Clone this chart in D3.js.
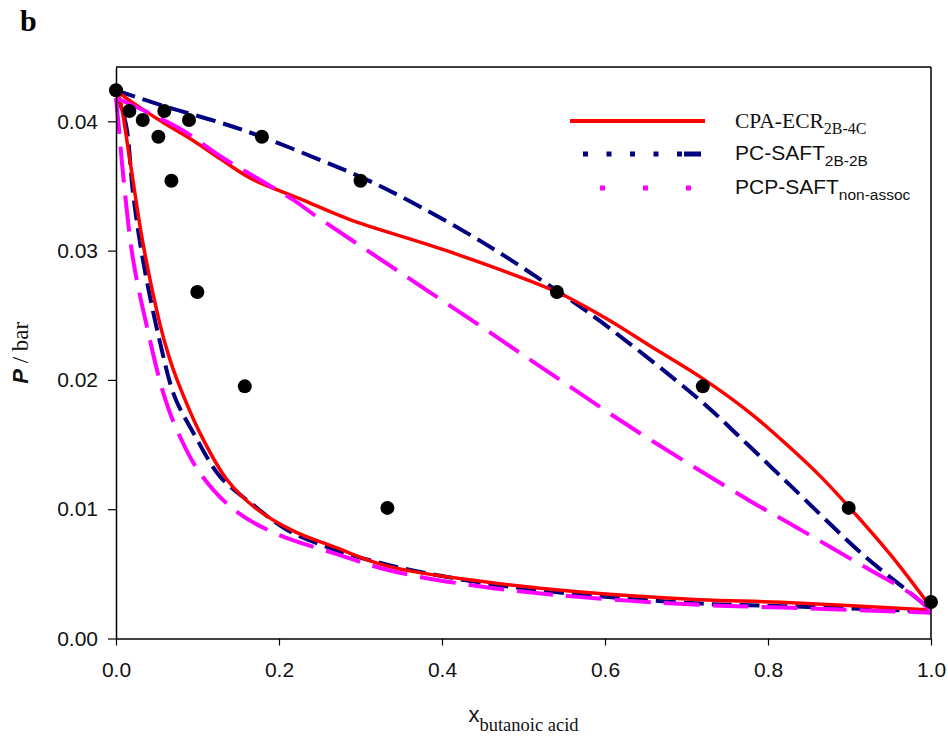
<!DOCTYPE html>
<html>
<head>
<meta charset="utf-8">
<script src="https://cdn.jsdelivr.net/npm/d3@7"></script>
<style>
  html, body { margin: 0; padding: 0; background: #fff; }
  svg { display: block; }
</style>
</head>
<body>
<svg id="chart" width="948" height="746"></svg>
<script>
// ---------------- DATA ----------------
const xTicks = [0, 0.2, 0.4, 0.6, 0.8, 1.0];
const yTicks = [0, 0.01, 0.02, 0.03, 0.04];

// Experimental points
const expX = [0, 0.0164, 0.0328, 0.052, 0.0593, 0.068, 0.0896, 0.0998, 0.158, 0.179, 0.300, 0.333, 0.541, 0.720, 0.899, 1.0];
const expP = [0.0424, 0.0408, 0.0401, 0.0388, 0.0408, 0.0354, 0.0401, 0.0268, 0.0195, 0.0388, 0.0354, 0.0101, 0.0268, 0.0195, 0.0101, 0.00282];

// CPA-ECR 2B-4C (red, solid)
const cpaBubbleX = [0, 0.017, 0.058, 0.095, 0.128, 0.165, 0.226, 0.287, 0.41, 0.541, 0.6, 0.656, 0.72, 0.779, 0.83, 0.865, 0.899, 0.95, 1.0];
const cpaBubbleP = [0.0424, 0.0416, 0.0399, 0.0385, 0.0371, 0.0356, 0.0340, 0.0324, 0.0299, 0.0268, 0.0248, 0.0226, 0.0201, 0.0174, 0.0146, 0.0125, 0.0102, 0.0065, 0.0024];
const cpaDewX = [0, 0.005, 0.017, 0.033, 0.054, 0.065, 0.075, 0.103, 0.136, 0.173, 0.218, 0.267, 0.333, 0.45, 0.57, 0.717, 0.816, 1.0];
const cpaDewP = [0.0424, 0.0416, 0.0370, 0.0306, 0.0243, 0.0218, 0.0200, 0.0159, 0.0123, 0.0100, 0.0083, 0.0071, 0.0056, 0.0044, 0.0036, 0.0030, 0.0028, 0.0022];

// PC-SAFT 2B-2B (navy, dashed)
const pcBubbleX = [0, 0.063, 0.128, 0.179, 0.247, 0.300, 0.349, 0.451, 0.541, 0.595, 0.717, 0.775, 0.828, 0.918, 0.979, 1.0];
const pcBubbleP = [0.0424, 0.0411, 0.0399, 0.0388, 0.0371, 0.0357, 0.0342, 0.0306, 0.0269, 0.0245, 0.0184, 0.0150, 0.0118, 0.0064, 0.0033, 0.0022];
const pcDewX = [0, 0.006, 0.013, 0.021, 0.033, 0.054, 0.072, 0.095, 0.128, 0.165, 0.21, 0.267, 0.34, 0.45, 0.57, 0.717, 0.82, 1.0];
const pcDewP = [0.0424, 0.0412, 0.0395, 0.0344, 0.0293, 0.0229, 0.0187, 0.0159, 0.0125, 0.0105, 0.0084, 0.0069, 0.0056, 0.0043, 0.0034, 0.0027, 0.0025, 0.0021];

// PCP-SAFT non-assoc (magenta, long dashes)
const pcpBubbleX = [0, 0.042, 0.082, 0.103, 0.128, 0.165, 0.218, 0.247, 0.349, 0.451, 0.533, 0.635, 0.779, 0.832, 0.914, 0.979, 1.0];
const pcpBubbleP = [0.0418, 0.0406, 0.0393, 0.0384, 0.0373, 0.0359, 0.0339, 0.0326, 0.0283, 0.0240, 0.0205, 0.0162, 0.0106, 0.0087, 0.0057, 0.0033, 0.0021];
const pcpDewX = [0, 0.004, 0.009, 0.021, 0.038, 0.058, 0.075, 0.103, 0.144, 0.193, 0.267, 0.34, 0.45, 0.57, 0.717, 0.816, 1.0];
const pcpDewP = [0.0418, 0.0392, 0.0357, 0.0293, 0.0241, 0.0190, 0.0161, 0.0128, 0.0100, 0.0082, 0.0066, 0.0052, 0.0040, 0.0032, 0.0026, 0.0024, 0.0020];

const legendMain = ["CPA-ECR", "PC-SAFT", "PCP-SAFT"];
const legendSub = ["2B-4C", "2B-2B", "non-assoc"];

// ---------------- LAYOUT ----------------
const svg = d3.select("#chart");
const L = 116, R = 931, T = 67, B = 638.5;

const x = d3.scaleLinear().domain([0, 1]).range([L, R]);
const y = d3.scaleLinear().domain([0, 0.0442]).range([B, T]);

const zip = (xs, ps) => xs.map((v, i) => [v, ps[i]]);
const line = d3.line().x(d => x(d[0])).y(d => y(d[1])).curve(d3.curveCatmullRom.alpha(0.5));

const RED = "#ff0000", NAVY = "#000080", MAG = "#ff00ff";

const series = [
  { data: zip(pcBubbleX, pcBubbleP), color: NAVY, width: 4, dash: "20,8" },
  { data: zip(pcDewX, pcDewP), color: NAVY, width: 4, dash: "20,8" },
  { data: zip(cpaBubbleX, cpaBubbleP), color: RED, width: 3.5, dash: null },
  { data: zip(cpaDewX, cpaDewP), color: RED, width: 3.5, dash: null },
  { data: zip(pcpBubbleX, pcpBubbleP), color: MAG, width: 4, dash: "36,13" },
  { data: zip(pcpDewX, pcpDewP), color: MAG, width: 4, dash: "36,13" }
];

const plot = svg.append("g");
series.forEach(s => {
  plot.append("path")
    .attr("d", line(s.data))
    .attr("fill", "none")
    .attr("stroke", s.color)
    .attr("stroke-width", s.width)
    .attr("stroke-dasharray", s.dash)
    .attr("stroke-linecap", "butt");
});

plot.selectAll("circle.exp")
  .data(zip(expX, expP))
  .enter().append("circle")
  .attr("class", "exp")
  .attr("cx", d => x(d[0]))
  .attr("cy", d => y(d[1]))
  .attr("r", 7)
  .attr("fill", "#000");

// ---------------- AXES ----------------
const fontSans = "'Liberation Sans', Arial, sans-serif";
const fontSerif = "'Liberation Serif', 'Times New Roman', serif";

const xAxis = svg.append("g")
  .attr("transform", `translate(0,${B})`)
  .call(d3.axisBottom(x).tickValues(xTicks).tickFormat(d3.format(".1f"))
    .tickSize(7).tickSizeOuter(0).tickPadding(17));
const yAxis = svg.append("g")
  .attr("transform", `translate(${L},0)`)
  .call(d3.axisLeft(y).tickValues(yTicks).tickFormat(d3.format(".2f"))
    .tickSize(8).tickSizeOuter(0).tickPadding(10));

[xAxis, yAxis].forEach(a => {
  a.select(".domain").attr("stroke", "#000").attr("stroke-width", 1.5);
  a.selectAll(".tick line").attr("stroke", "#000").attr("stroke-width", 1.2);
  a.selectAll(".tick text").attr("font-family", fontSans).attr("font-size", 21).attr("fill", "#111");
});

// frame top & right
svg.append("line").attr("x1", L).attr("x2", R).attr("y1", T).attr("y2", T)
  .attr("stroke", "#000").attr("stroke-width", 1.5);
svg.append("line").attr("x1", R).attr("x2", R).attr("y1", T).attr("y2", B)
  .attr("stroke", "#000").attr("stroke-width", 1.5);

// axis titles
const xt = svg.append("text").attr("x", (L + R) / 2).attr("y", 722)
  .attr("text-anchor", "middle").attr("fill", "#111");
xt.append("tspan").attr("font-family", fontSans).attr("font-size", 22).text("x");
xt.append("tspan").attr("font-family", fontSerif).attr("font-size", 18.5).attr("dy", 9).text("butanoic acid");

const yt = svg.append("text").attr("transform", `translate(28,${(T + B) / 2}) rotate(-90)`)
  .attr("text-anchor", "middle").attr("fill", "#111");
yt.append("tspan").attr("font-family", fontSans).attr("font-weight", "bold").attr("font-style", "italic")
  .attr("font-size", 22).text("P");
yt.append("tspan").attr("font-family", fontSerif).attr("font-size", 23).text(" / bar");

// panel label
svg.append("text").attr("x", 20).attr("y", 31)
  .attr("font-family", fontSerif).attr("font-weight", "bold").attr("font-size", 30)
  .attr("fill", "#000").text("b");

// ---------------- LEGEND ----------------
const legItems = [
  { color: RED, y: 121, x1: 570, dash: null, font: fontSerif, size: 21.5, subSize: 16, base: 128 },
  { color: NAVY, y: 154, x1: 583, dash: "5,18.5,5,18.5,5,18.5,5,18.5,5,2,17", font: fontSans, size: 21, subSize: 15.5, base: 160 },
  { color: MAG, y: 188, x1: 600, dash: "5,38", font: fontSans, size: 21, subSize: 15.5, base: 194 }
];
legItems.forEach((it, i) => {
  svg.append("line").attr("x1", it.x1).attr("x2", 705).attr("y1", it.y).attr("y2", it.y)
    .attr("stroke", it.color).attr("stroke-width", it.color === RED ? 4 : 5)
    .attr("stroke-dasharray", it.dash);
  const t = svg.append("text").attr("x", 735).attr("y", it.base).attr("fill", "#111");
  t.append("tspan").attr("font-family", it.font).attr("font-size", it.size).text(legendMain[i]);
  t.append("tspan").attr("font-family", it.font).attr("font-size", it.subSize).attr("dy", 6).text(legendSub[i]);
});
</script>
</body>
</html>
